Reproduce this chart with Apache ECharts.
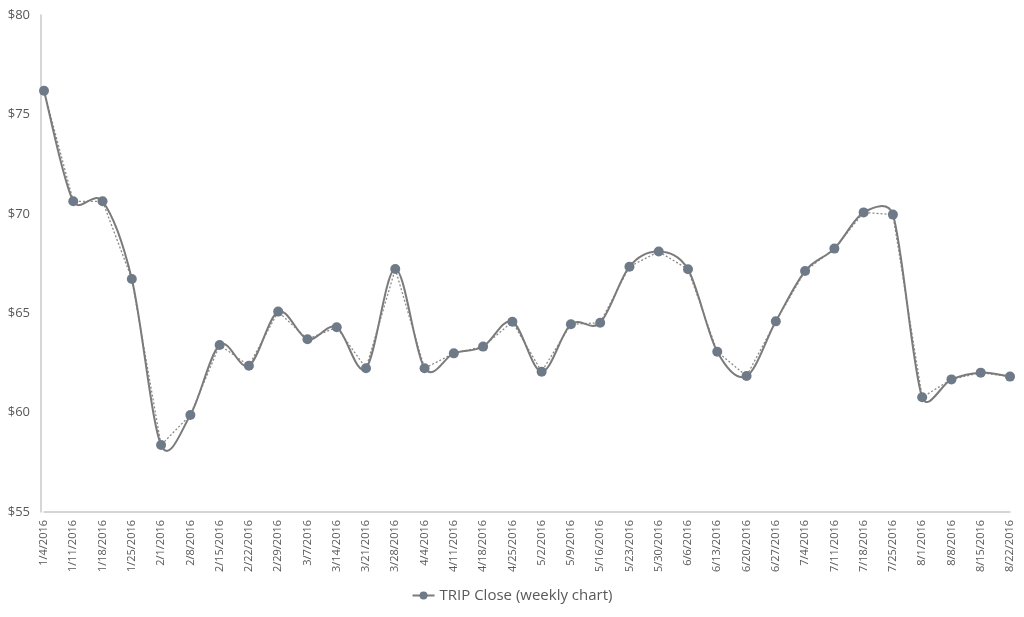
<!DOCTYPE html>
<html><head><meta charset="utf-8">
<script src="https://cdn.jsdelivr.net/npm/echarts@6/dist/echarts.min.js"></script>
<style>html,body{margin:0;padding:0;background:#fff}#c{width:1024px;height:617px}</style>
</head><body><div id="c"></div>
<script>
const categories = ["1/4/2016","1/11/2016","1/18/2016","1/25/2016","2/1/2016","2/8/2016","2/15/2016","2/22/2016","2/29/2016","3/7/2016","3/14/2016","3/21/2016","3/28/2016","4/4/2016","4/11/2016","4/18/2016","4/25/2016","5/2/2016","5/9/2016","5/16/2016","5/23/2016","5/30/2016","6/6/2016","6/13/2016","6/20/2016","6/27/2016","7/4/2016","7/11/2016","7/18/2016","7/25/2016","8/1/2016","8/8/2016","8/15/2016","8/22/2016"];
const closeValues = [76.19,70.63,70.63,66.72,58.37,59.88,63.40,62.36,65.08,63.69,64.29,62.23,67.22,62.23,62.98,63.32,64.57,62.06,64.44,64.52,67.34,68.10,67.21,63.06,61.84,64.59,67.12,68.25,70.07,69.96,60.77,61.67,62.01,61.81];
const seriesName = "TRIP Close (weekly chart)";
const yMin = 55, yMax = 80, yStep = 5;

const chart = echarts.init(document.getElementById('c'), null, {renderer:'canvas'});
const font = '"Open Sans", "Liberation Sans", sans-serif';
const lineColor = '#7b7b7b', markerColor = '#6f7a88';

// Spreadsheet-style smoothed line: Catmull-Rom tangents, control arm capped at half the segment length.
function ctrl(pFrom, pA, pB, segLen) {
  let vx = (pB[0] - pA[0]) / 6, vy = (pB[1] - pA[1]) / 6;
  const len = Math.hypot(vx, vy), cap = segLen / 2;
  if (len > cap && len > 0) { vx *= cap / len; vy *= cap / len; }
  return [vx, vy];
}
function renderSmooth(params, api) {
  if (params.dataIndex !== 0) return null;
  const pts = closeValues.map((v, i) => api.coord([i, v]));
  const n = pts.length;
  let d = 'M' + pts[0][0] + ' ' + pts[0][1];
  for (let i = 0; i < n - 1; i++) {
    const p0 = pts[Math.max(i - 1, 0)], p1 = pts[i], p2 = pts[i + 1], p3 = pts[Math.min(i + 2, n - 1)];
    const seg = Math.hypot(p2[0] - p1[0], p2[1] - p1[1]);
    const a = ctrl(p1, p0, p2, seg), b = ctrl(p2, p1, p3, seg);
    const c1x = p1[0] + a[0], c1y = p1[1] + a[1];
    const c2x = p2[0] - b[0], c2y = p2[1] - b[1];
    d += ' C' + c1x + ' ' + c1y + ' ' + c2x + ' ' + c2y + ' ' + p2[0] + ' ' + p2[1];
  }
  return {type: 'path', shape: {pathData: d}, style: {fill: null, stroke: lineColor, lineWidth: 2}};
}

chart.setOption({
  animation: false,
  backgroundColor: '#fff',
  grid: {left: 44, right: 14, top: 15, bottom: 105, containLabel: false},
  xAxis: {
    type: 'category', data: categories, boundaryGap: false,
    axisLine: {show: true, lineStyle: {color: '#c8c8c8', width: 1.5}},
    axisTick: {show: false},
    axisLabel: {rotate: 90, interval: 0, color: '#595959', fontSize: 11, fontFamily: font, margin: 8}
  },
  yAxis: {
    type: 'value', min: yMin, max: yMax, interval: yStep, offset: 3,
    axisLine: {show: true, lineStyle: {color: '#c8c8c8', width: 1.5}},
    axisTick: {show: false},
    splitLine: {show: false},
    axisLabel: {color: '#595959', fontSize: 13, fontFamily: font, margin: 11, formatter: v => '$' + v}
  },
  legend: {
    bottom: 9, left: 'center', itemWidth: 22, itemHeight: 10, itemGap: 10,
    textStyle: {color: '#595959', fontSize: 15, fontFamily: font},
    data: [{name: seriesName, itemStyle: {color: markerColor},
            lineStyle: {color: lineColor, width: 2, opacity: 1}}]
  },
  series: [
    {
      name: seriesName + ' linear', type: 'line', data: closeValues, smooth: false,
      symbol: 'none', lineStyle: {color: '#8a8a8a', width: 1.3, type: [2, 2]}, z: 1
    },
    {
      name: seriesName + ' curve', type: 'custom', renderItem: renderSmooth,
      data: closeValues.map((v, i) => [i, v]), encode: {x: 0, y: 1}, z: 2, clip: false
    },
    {
      name: seriesName, type: 'line', data: closeValues,
      symbol: 'circle', symbolSize: 10,
      itemStyle: {color: markerColor},
      lineStyle: {color: lineColor, width: 2, opacity: 0}, z: 3
    }
  ]
});
</script></body></html>
